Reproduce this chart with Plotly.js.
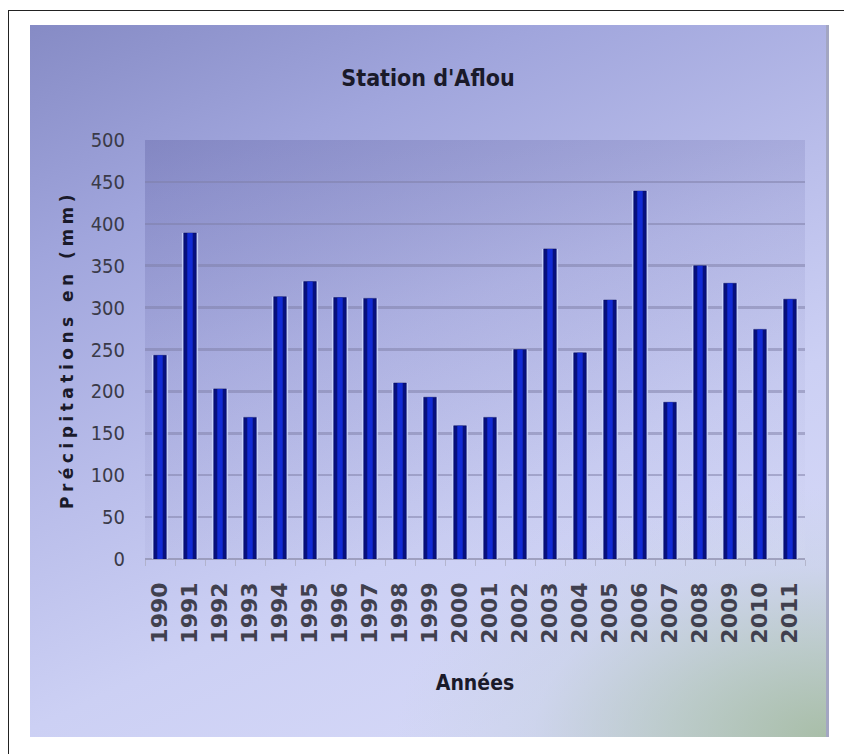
<!DOCTYPE html>
<html>
<head>
<meta charset="utf-8">
<script src="https://cdn.plot.ly/plotly-3.0.1.min.js"></script>
<style>
  html, body { margin: 0; padding: 0; background: #ffffff; }
  #wrap { position: relative; width: 844px; height: 754px; overflow: hidden; }
  /* outer frame: only the top and left rules show */
  #frame { position: absolute; left: 8px; top: 10px; width: 840px; height: 750px;
           border-left: 1.5px solid #222; border-top: 1.5px solid #222; box-sizing: border-box; }
  /* chart area background */
  #bg { position: absolute; left: 30px; top: 25px; width: 799px; height: 712px;
        background:
          radial-gradient(ellipse 430px 250px at 100% 100%, rgba(165,188,162,0.92) 0%, rgba(178,198,185,0.72) 35%, rgba(195,208,220,0.38) 68%, rgba(205,210,240,0) 100%),
          linear-gradient(155deg, #868bc5 0%, #a0a5dc 22%, #b9bdea 45%, #ccd0f4 65%, #d4d7f7 85%, #d2d6f2 100%);
        border-right: 3px solid #a3a6c2; box-sizing: border-box; }
  /* slightly darker plot area */
  #plotbg { position: absolute; left: 145px; top: 140px; width: 660px; height: 419px;
            background: linear-gradient(165deg, rgba(70,70,140,0.26) 0%, rgba(90,90,160,0.12) 40%, rgba(255,255,255,0.04) 100%); }
  #chart { position: absolute; left: 0; top: 0; width: 844px; height: 754px; }
  .ytitle { letter-spacing: 4.5px; }
</style>
</head>
<body>
<div id="wrap">
  <div id="frame"></div>
  <div id="bg"></div>
  <div id="plotbg"></div>
  <div id="chart"></div>
</div>
<script>
// Annual precipitation at the Aflou station (mm)
const years = ['1990','1991','1992','1993','1994','1995','1996','1997','1998','1999','2000',
               '2001','2002','2003','2004','2005','2006','2007','2008','2009','2010','2011'];
const precip = [243, 389, 203, 169, 313, 331, 312, 311, 210, 193, 159,
                169, 250, 370, 246, 309, 439, 187, 350, 329, 274, 310];
const yTicks = [0, 50, 100, 150, 200, 250, 300, 350, 400, 450, 500];

const narrow = '"DejaVu Sans Condensed", "Roboto", sans-serif';

// three stacked layers of the same bars give a rounded, glossy look
const glow = {
  type: 'bar', x: years, y: precip, width: 0.54,
  marker: { color: 'rgba(205,215,255,0.8)' }, hoverinfo: 'skip', showlegend: false
};
const core = {
  type: 'bar', x: years, y: precip, width: 0.42,
  marker: { color: '#07107e', line: { color: '#040a5c', width: 0.5 } }, showlegend: false
};
const shine = {
  type: 'bar', x: years, y: precip, width: 0.18,
  marker: { color: 'rgba(20,50,235,0.8)' }, hoverinfo: 'skip', showlegend: false
};

const layout = {
  width: 844, height: 754,
  paper_bgcolor: 'rgba(0,0,0,0)', plot_bgcolor: 'rgba(0,0,0,0)',
  margin: { l: 145, r: 39, t: 140, b: 195 },
  barmode: 'overlay',
  title: {
    text: "Station d'Aflou",
    x: 428 / 844, xanchor: 'center', y: 1 - 78 / 754, yanchor: 'middle',
    font: { family: narrow, size: 23, color: '#1a1a2a', weight: 'bold' }
  },
  xaxis: {
    type: 'category', automargin: false,
    tickangle: -90, ticklabelstandoff: 18,
    tickfont: { family: '"DejaVu Sans", sans-serif', size: 22, color: '#40404e', weight: 'bold' },
    ticks: 'outside', ticklen: 6, tickcolor: 'rgba(170,170,190,0.7)', tickson: 'boundaries',
    showline: false, showgrid: false,
    title: { text: 'Années', standoff: 32,
             font: { family: narrow, size: 21, color: '#1a1a2a', weight: 'bold' } }
  },
  yaxis: {
    range: [0, 500], tickvals: yTicks, automargin: false,
    ticks: '', ticklabelstandoff: 19,
    tickfont: { family: narrow, size: 20, color: '#3a3a48' },
    showgrid: true, gridcolor: 'rgba(125,125,165,0.5)', gridwidth: 2.5,
    zeroline: true, zerolinecolor: 'rgba(140,140,170,0.7)', zerolinewidth: 2.5,
    showline: false,
    title: { text: 'Précipitations en (mm)', standoff: 12,
             font: { family: '"DejaVu Sans", sans-serif', size: 17, color: '#1a1a2a', weight: 'bold' } }
  }
};

Plotly.newPlot('chart', [glow, core, shine], layout, { staticPlot: true });
</script>
</body>
</html>
